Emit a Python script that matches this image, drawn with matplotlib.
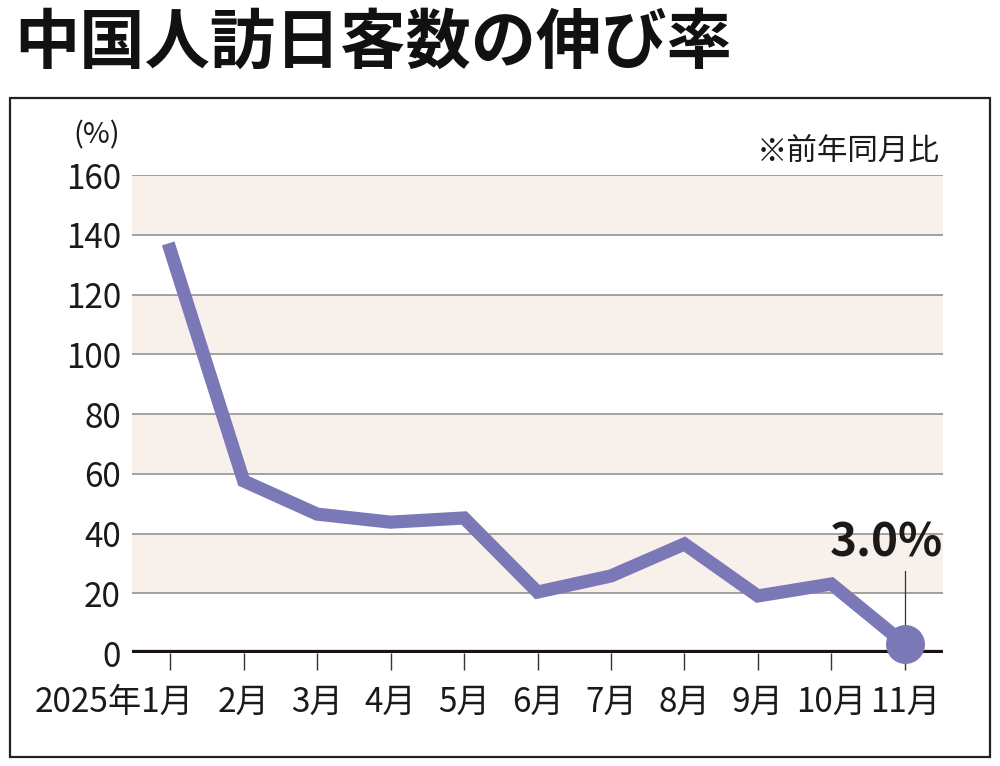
import matplotlib
matplotlib.use('Agg')
import matplotlib.pyplot as plt
from matplotlib.patches import Rectangle
from matplotlib.transforms import ScaledTranslation
import numpy as np

plt.rcParams['font.family'] = ['Noto Sans CJK JP', 'DejaVu Sans']

# データ（前年同月比, %）
months = ['2025年1月', '2月', '3月', '4月', '5月', '6月', '7月', '8月', '9月', '10月', '11月']
growth = [135.0, 57.6, 46.5, 43.8, 45.2, 20.4, 25.8, 36.5, 19.1, 23.1, 3.0]
yticks = [0, 20, 40, 60, 80, 100, 120, 140, 160]
bands = [(20, 40), (60, 80), (100, 120), (140, 160)]

line_color = '#7b78b8'

fig = plt.figure(figsize=(10, 7.66), dpi=100)
ax = fig.add_axes([0.132, 0.1475, 0.811, 0.624])

x = np.arange(len(months))

# 背景の帯
for lo, hi in bands:
    ax.axhspan(lo, hi, color='#f8f0ea', lw=0, zorder=0)
for v in yticks[1:]:
    ax.axhline(v, color='#8a8a8a', lw=1.1, zorder=1)
ax.axhline(0, color='#1a1212', lw=4.5, zorder=2)

ax.plot(x, growth, color=line_color, lw=9.5, solid_joinstyle='miter', zorder=3)
ax.plot(x[-1], growth[-1], 'o', color=line_color, ms=27, zorder=4, clip_on=False)

# 最新値の注記
ax.plot([x[-1], x[-1]], [growth[-1], 27.5], color='#333333', lw=0.9, zorder=2, clip_on=False)
ax.text(x[-1] + 0.52, 29, f'{growth[-1]:.1f}%', ha='right', va='bottom',
        fontsize=33, fontweight='bold', color='#1a1a1a')

ax.set_xlim(-0.52, len(months) - 0.48)
ax.set_ylim(0, 160)
ax.set_xticks(x)
ax.set_xticklabels(months)
ax.set_yticks(yticks)
ax.tick_params(axis='x', length=12, width=1, color='#333333', pad=11, labelsize=24,
               labelcolor='#1a1a1a')
ax.tick_params(axis='y', length=0, pad=8, labelsize=24, labelcolor='#1a1a1a')
for s in ax.spines.values():
    s.set_visible(False)
ax.patch.set_alpha(0)

# 最初のラベルは「1月」が目盛りの下に来るように右寄せ
first = ax.get_xticklabels()[0]
first.set_horizontalalignment('right')
first.set_transform(first.get_transform() + ScaledTranslation(23 / 100, 0, fig.dpi_scale_trans))

fig.text(0.097, 0.823, '(%)', ha='center', va='center', fontsize=21, color='#1a1a1a')
fig.text(0.94, 0.801, '※前年同月比', ha='right', va='center', fontsize=22, color='#1a1a1a')

fig.text(0.014, 0.943, '中国人訪日客数の伸び率', ha='left', va='center',
         fontsize=47, fontweight='bold', color='#111111')

fig.patches.append(Rectangle((0.010, 0.012), 0.980, 0.860, transform=fig.transFigure,
                             fill=False, ec='#222222', lw=1.6))

fig.savefig('out.png', dpi=100)
